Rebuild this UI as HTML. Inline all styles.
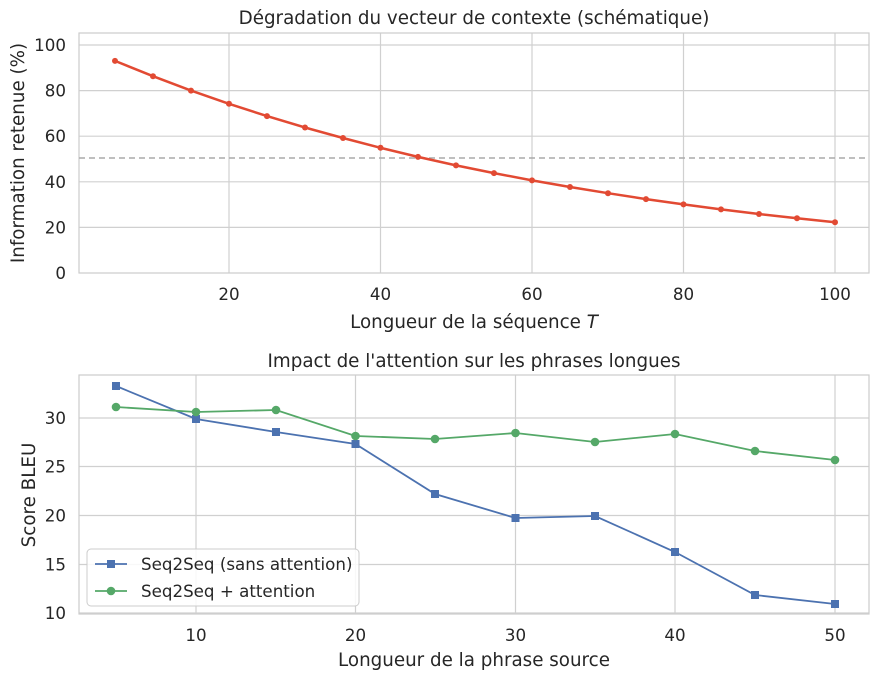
<!DOCTYPE html>
<html><head><meta charset="utf-8"><style>
body{margin:0;background:#fff}
svg text{font-family:"DejaVu Sans","Liberation Sans",sans-serif;fill:#262626}
</style></head><body>
<svg width="880" height="680" xmlns="http://www.w3.org/2000/svg">
<rect width="880" height="680" fill="#fff"/>
<g id="top">
<g stroke="#d0d0d0" stroke-width="1.2">
<line x1="229" y1="33" x2="229" y2="273"/><line x1="380.5" y1="33" x2="380.5" y2="273"/>
<line x1="532" y1="33" x2="532" y2="273"/><line x1="683.5" y1="33" x2="683.5" y2="273"/><line x1="835" y1="33" x2="835" y2="273"/>
<line x1="79" y1="45" x2="869" y2="45"/><line x1="79" y1="90.6" x2="869" y2="90.6"/><line x1="79" y1="136.2" x2="869" y2="136.2"/>
<line x1="79" y1="181.8" x2="869" y2="181.8"/><line x1="79" y1="227.4" x2="869" y2="227.4"/>
</g>
<rect x="79" y="33" width="790" height="240" fill="none" stroke="#cccccc" stroke-width="1.2"/>
<line x1="79" y1="158" x2="869" y2="158" stroke="#aaaaaa" stroke-width="1.5" stroke-dasharray="6,4"/>
<polyline fill="none" stroke="#e24a33" stroke-width="2.5" points="115,60.9 153,76.2 191,90.6 229,103.8 267,116.1 305,127.5 343,138 380.5,147.8 418,156.9 456,165.4 494,173.1 532,180.4 570,187 608,193.2 646,199.1 683.5,204.4 721,209.4 759,214 797,218.3 835,222.2"/>
<g fill="#e24a33">
<circle cx="115" cy="60.9" r="3"/><circle cx="153" cy="76.2" r="3"/><circle cx="191" cy="90.6" r="3"/><circle cx="229" cy="103.8" r="3"/><circle cx="267" cy="116.1" r="3"/><circle cx="305" cy="127.5" r="3"/><circle cx="343" cy="138" r="3"/><circle cx="380.5" cy="147.8" r="3"/><circle cx="418" cy="156.9" r="3"/><circle cx="456" cy="165.4" r="3"/><circle cx="494" cy="173.1" r="3"/><circle cx="532" cy="180.4" r="3"/><circle cx="570" cy="187" r="3"/><circle cx="608" cy="193.2" r="3"/><circle cx="646" cy="199.1" r="3"/><circle cx="683.5" cy="204.4" r="3"/><circle cx="721" cy="209.4" r="3"/><circle cx="759" cy="214" r="3"/><circle cx="797" cy="218.3" r="3"/><circle cx="835" cy="222.2" r="3"/>
</g>
<g font-size="16.7" text-anchor="end">
<text x="66" y="51">100</text><text x="66" y="96.6">80</text><text x="66" y="142.2">60</text><text x="66" y="187.8">40</text><text x="66" y="233.4">20</text><text x="66" y="279">0</text>
</g>
<g font-size="16.7" text-anchor="middle">
<text x="229" y="300">20</text><text x="380.5" y="300">40</text><text x="532" y="300">60</text><text x="683.5" y="300">80</text><text x="835" y="300">100</text>
<text x="474" y="24" font-size="18.3">Dégradation du vecteur de contexte (schématique)</text>
<text x="474" y="328" font-size="18.3">Longueur de la séquence <tspan font-style="italic">T</tspan></text>
<text transform="translate(24,153) rotate(-90)" font-size="18.3">Information retenue (%)</text>
</g>
</g>
<g id="bottom">
<g stroke="#d0d0d0" stroke-width="1.2">
<line x1="196" y1="375" x2="196" y2="614"/><line x1="355.5" y1="375" x2="355.5" y2="614"/><line x1="515.5" y1="375" x2="515.5" y2="614"/><line x1="675" y1="375" x2="675" y2="614"/><line x1="835" y1="375" x2="835" y2="614"/>
<line x1="79" y1="418" x2="869" y2="418"/><line x1="79" y1="466.5" x2="869" y2="466.5"/><line x1="79" y1="515.5" x2="869" y2="515.5"/><line x1="79" y1="564.5" x2="869" y2="564.5"/><line x1="79" y1="613" x2="869" y2="613"/>
</g>
<rect x="79" y="375" width="790" height="239" fill="none" stroke="#cccccc" stroke-width="1.2"/>
<polyline fill="none" stroke="#4c72b0" stroke-width="1.8" points="116,386 196,419 276,432 355.5,444 435,494 515.5,518 595,516 675,552 755,595 835,604"/>
<g fill="#4c72b0">
<rect x="112" y="382" width="8" height="8"/><rect x="192" y="415" width="8" height="8"/><rect x="272" y="428" width="8" height="8"/><rect x="351.5" y="440" width="8" height="8"/><rect x="431" y="490" width="8" height="8"/><rect x="511.5" y="514" width="8" height="8"/><rect x="591" y="512" width="8" height="8"/><rect x="671" y="548" width="8" height="8"/><rect x="751" y="591" width="8" height="8"/><rect x="831" y="600" width="8" height="8"/>
</g>
<polyline fill="none" stroke="#55a868" stroke-width="1.8" points="116,407 196,412 276,410 355.5,436 435,439 515.5,433 595,442 675,434 755,451 835,460"/>
<g fill="#55a868">
<circle cx="116" cy="407" r="4.3"/><circle cx="196" cy="412" r="4.3"/><circle cx="276" cy="410" r="4.3"/><circle cx="355.5" cy="436" r="4.3"/><circle cx="435" cy="439" r="4.3"/><circle cx="515.5" cy="433" r="4.3"/><circle cx="595" cy="442" r="4.3"/><circle cx="675" cy="434" r="4.3"/><circle cx="755" cy="451" r="4.3"/><circle cx="835" cy="460" r="4.3"/>
</g>
<rect x="87" y="549" width="272" height="57" rx="4" fill="#fff" fill-opacity="0.85" stroke="#cccccc"/>
<line x1="95" y1="564" x2="127" y2="564" stroke="#4c72b0" stroke-width="1.8"/><rect x="107" y="560" width="8" height="8" fill="#4c72b0"/>
<line x1="95" y1="591" x2="127" y2="591" stroke="#55a868" stroke-width="1.8"/><circle cx="111" cy="591" r="4.3" fill="#55a868"/>
<text x="141" y="570" font-size="16.7">Seq2Seq (sans attention)</text>
<text x="141" y="597" font-size="16.7">Seq2Seq + attention</text>
<g font-size="16.7" text-anchor="end">
<text x="66" y="424">30</text><text x="66" y="472.5">25</text><text x="66" y="521.5">20</text><text x="66" y="570.5">15</text><text x="66" y="619">10</text>
</g>
<g font-size="16.7" text-anchor="middle">
<text x="196" y="641">10</text><text x="355.5" y="641">20</text><text x="515.5" y="641">30</text><text x="675" y="641">40</text><text x="835" y="641">50</text>
<text x="474" y="367" font-size="18.3">Impact de l'attention sur les phrases longues</text>
<text x="474" y="666" font-size="18.3">Longueur de la phrase source</text>
<text transform="translate(35,495) rotate(-90)" font-size="18.3">Score BLEU</text>
</g>
</g>
</svg>
</body></html>
